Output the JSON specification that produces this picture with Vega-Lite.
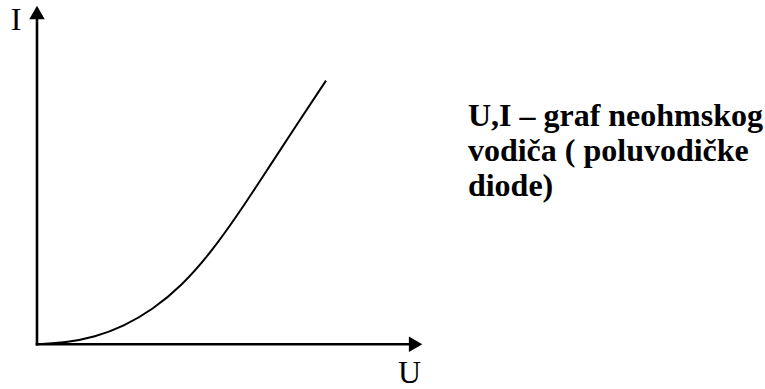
{
  "$schema": "https://vega.github.io/schema/vega-lite/v6.json",
  "width": 765,
  "height": 389,
  "autosize": {"type": "fit", "contains": "padding"},
  "padding": 0,
  "background": "white",
  "config": {"view": {"stroke": null}},
  "datasets": {
    "curve": [
      {"U": 0, "I": 0},
      {"U": 1, "I": 0.06},
      {"U": 2, "I": 0.27},
      {"U": 3, "I": 0.68},
      {"U": 4, "I": 1.31},
      {"U": 5, "I": 2.21},
      {"U": 6, "I": 3.45},
      {"U": 7, "I": 4.99},
      {"U": 8, "I": 6.67},
      {"U": 9, "I": 8.35},
      {"U": 10, "I": 10}
    ],
    "axes": [
      {"U": 0, "I": 0, "U2": 0, "I2": 12.3},
      {"U": 0, "I": 0, "U2": 12.84, "I2": 0}
    ],
    "arrows": [
      {"U": 0, "I": 12.585, "shape": "triangle-up"},
      {"U": 13.1, "I": 0, "shape": "triangle-right"}
    ],
    "labels": [
      {"U": -0.727, "I": 11.92, "text": "I"},
      {"U": 12.89, "I": -1.472, "text": "U"}
    ],
    "caption": [
      {"U": 14.91, "I": 8.264, "text": ["U,I – graf neohmskog", "vodiča ( poluvodičke", "diode)"]}
    ]
  },
  "layer": [
    {
      "data": {"name": "axes"},
      "mark": {"type": "rule", "strokeWidth": 2.6, "color": "black", "strokeCap": "square"},
      "encoding": {
        "x": {"field": "U", "type": "quantitative", "scale": {"domain": [-1.28, 25.19], "nice": false, "zero": false}, "axis": null},
        "y": {"field": "I", "type": "quantitative", "scale": {"domain": [-1.623, 13.057], "nice": false, "zero": false}, "axis": null},
        "x2": {"field": "U2"},
        "y2": {"field": "I2"}
      }
    },
    {
      "data": {"name": "curve"},
      "mark": {"type": "line", "strokeWidth": 2, "color": "black", "interpolate": "basis"},
      "encoding": {
        "x": {"field": "U", "type": "quantitative"},
        "y": {"field": "I", "type": "quantitative"}
      }
    },
    {
      "data": {"name": "arrows"},
      "mark": {"type": "point", "filled": true, "color": "black", "size": 240, "opacity": 1},
      "encoding": {
        "x": {"field": "U", "type": "quantitative"},
        "y": {"field": "I", "type": "quantitative"},
        "shape": {"field": "shape", "type": "nominal", "scale": null}
      }
    },
    {
      "data": {"name": "labels"},
      "mark": {"type": "text", "font": "Liberation Serif, Times New Roman, serif", "fontSize": 32, "align": "center", "baseline": "alphabetic", "color": "black"},
      "encoding": {
        "x": {"field": "U", "type": "quantitative"},
        "y": {"field": "I", "type": "quantitative"},
        "text": {"field": "text"}
      }
    },
    {
      "data": {"name": "caption"},
      "mark": {"type": "text", "font": "Liberation Serif, Times New Roman, serif", "fontSize": 32, "fontWeight": "bold", "align": "left", "baseline": "alphabetic", "lineHeight": 35, "color": "black"},
      "encoding": {
        "x": {"field": "U", "type": "quantitative"},
        "y": {"field": "I", "type": "quantitative"},
        "text": {"field": "text"}
      }
    }
  ]
}
